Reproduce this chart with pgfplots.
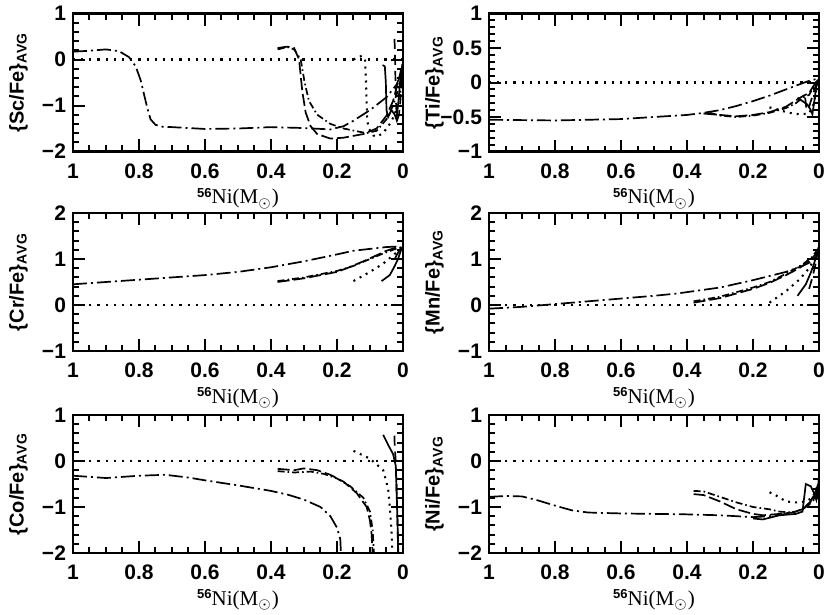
\documentclass[border=0pt]{standalone}
\usepackage{fontspec}
\setmainfont{Liberation Sans}
\newfontfamily\serif{Liberation Serif}
\usepackage{pgfplots}
\pgfplotsset{compat=1.18}
\pgfplotsset{
  panel/.style={
    scale only axis, width=165pt, height=69pt,
    x dir=reverse, xmin=0, xmax=1,
    xtick={0,0.2,0.4,0.6,0.8,1},
    xticklabels={0,0.2,0.4,0.6,0.8,1},
    minor x tick num=3, minor y tick num=4,
    tick align=inside, xtick pos=both, ytick pos=both,
    major tick length=6pt, minor tick length=3pt,
    axis line style={line width=1.2pt},
    every tick/.style={line width=1pt, black},
    ticklabel style={font=\fontsize{10.5}{12}\selectfont\bfseries},
    xticklabel style={yshift=-2.5pt},
    label style={font=\fontsize{10}{12}\selectfont\bfseries},
    ylabel style={at={(axis description cs:-0.165,0.5)}, anchor=center, rotate=0},
    xlabel style={at={(axis description cs:0.5,0)}, yshift=-23.5pt, anchor=center},
    xlabel={{\fontsize{6.5}{7}\selectfont\bfseries\raisebox{3.4pt}{56}}{\serif\fontsize{10.5}{12}\selectfont\mdseries Ni(M$_{\odot}$)}},
    every axis plot/.append style={line width=0.85pt, black},
  },
  zline/.style={line width=1.1pt, dash pattern=on 1.1pt off 3pt},
  sA/.style={dash pattern=on 7pt off 2pt on 1pt off 2pt},
  sB/.style={dash pattern=on 6pt off 2pt},
  sC/.style={dash pattern=on 3.5pt off 1.5pt on 0.8pt off 1.5pt},
  sD/.style={line width=1.05pt, dash pattern=on 1pt off 2.5pt},
  sE/.style={solid},
  sF/.style={dash pattern=on 5pt off 3pt},
}
\begin{document}
\begin{tikzpicture}
\useasboundingbox (0pt,0pt) rectangle (415pt,-307.5pt);
% ---------- Sc ----------
\begin{axis}[panel, at={(36.5pt,-6.75pt)}, anchor=north west,
  ymin=-2, ymax=1, ytick={-2,-1,0,1}, yticklabels={−2,−1,0,1},
  ylabel={\{Sc/Fe\}$_{\mathbf{AVG}}$}]
\addplot[zline] coordinates {(0,0)(1,0)};
\addplot[sA] coordinates {(1,0.17)(0.95,0.19)(0.9,0.22)(0.86,0.18)(0.83,0.05)(0.81,-0.15)(0.795,-0.45)(0.785,-0.75)(0.775,-1.05)(0.765,-1.3)(0.75,-1.42)(0.73,-1.46)(0.7,-1.47)(0.65,-1.49)(0.6,-1.51)(0.5,-1.5)(0.4,-1.47)(0.3,-1.49)(0.22,-1.52)(0.18,-1.45)(0.15,-1.33)(0.1,-1.1)(0.05,-0.82)(0.02,-0.55)(0.005,-0.3)};
\addplot[sB] coordinates {(0.38,0.25)(0.35,0.28)(0.33,0.25)(0.315,0)(0.305,-0.7)(0.295,-1.15)(0.28,-1.45)(0.26,-1.62)(0.22,-1.72)(0.18,-1.7)(0.12,-1.62)(0.08,-1.5)(0.05,-1.22)(0.03,-0.9)(0.015,-0.5)(0.005,-0.2)};
\addplot[sC] coordinates {(0.38,0.22)(0.35,0.27)(0.33,0.22)(0.31,0)(0.298,-0.5)(0.285,-0.9)(0.26,-1.2)(0.22,-1.4)(0.18,-1.5)(0.14,-1.56)(0.11,-1.6)(0.08,-1.55)(0.05,-1.3)(0.03,-1.0)(0.012,-0.6)(0.003,-0.3)};
\addplot[sD] coordinates {(0.15,0.0)(0.135,0.05)(0.125,0.08)(0.115,0.0)(0.112,-0.5)(0.11,-1.0)(0.108,-1.35)(0.1,-1.55)(0.09,-1.65)(0.08,-1.68)(0.06,-1.6)(0.04,-1.4)(0.025,-1.2)(0.01,-0.8)(0.003,-0.4)};
\addplot[sE] coordinates {(0.062,-0.12)(0.055,-0.15)(0.052,-0.5)(0.05,-1.1)(0.045,-1.25)(0.035,-1.1)(0.025,-1.2)(0.02,-1.3)(0.015,-1.0)(0.01,-0.6)(0.005,-0.3)(0.002,-0.1)};
\addplot[sF] coordinates {(0.026,0.45)(0.025,0.3)(0.024,0)(0.023,-0.4)(0.022,-0.8)(0.02,-1.1)(0.017,-1.3)(0.012,-1.2)(0.008,-0.9)(0.004,-0.5)(0.001,-0.2)};
\end{axis}
% ---------- Ti ----------
\begin{axis}[panel, at={(244.5pt,-6.75pt)}, anchor=north west,
  ymin=-1, ymax=1, ytick={-1,-0.5,0,0.5,1}, yticklabels={−1,−0.5,0,0.5,1},
  ylabel={\{Ti/Fe\}$_{\mathbf{AVG}}$}]
\addplot[zline] coordinates {(0,0)(1,0)};
\addplot[sA] coordinates {(1,-0.54)(0.9,-0.545)(0.8,-0.55)(0.7,-0.54)(0.6,-0.53)(0.5,-0.5)(0.4,-0.47)(0.35,-0.44)(0.3,-0.4)(0.25,-0.34)(0.2,-0.27)(0.15,-0.19)(0.1,-0.1)(0.05,-0.01)(0.02,0.04)(0.005,0.05)};
\addplot[sB] coordinates {(0.35,-0.45)(0.3,-0.47)(0.25,-0.49)(0.2,-0.47)(0.15,-0.43)(0.1,-0.35)(0.07,-0.26)(0.05,-0.2)(0.03,-0.15)(0.01,0.0)(0.003,0.05)};
\addplot[sC] coordinates {(0.33,-0.44)(0.3,-0.48)(0.25,-0.5)(0.2,-0.48)(0.15,-0.44)(0.1,-0.37)(0.07,-0.3)(0.05,-0.22)(0.03,-0.18)(0.015,-0.05)(0.003,0.04)};
\addplot[sD] coordinates {(0.15,-0.36)(0.12,-0.4)(0.09,-0.44)(0.06,-0.46)(0.03,-0.45)(0.015,-0.3)(0.008,-0.1)(0.003,0.02)};
\addplot[sE] coordinates {(0.065,-0.22)(0.05,-0.27)(0.035,-0.32)(0.025,-0.4)(0.02,-0.46)(0.015,-0.3)(0.01,-0.12)(0.004,0.04)};
\addplot[sF] coordinates {(0.042,-0.22)(0.04,-0.3)(0.038,-0.4)(0.03,-0.35)(0.02,-0.2)(0.01,-0.05)(0.003,0.05)};
\end{axis}
% ---------- Cr ----------
\begin{axis}[panel, at={(36.5pt,-106.5pt)}, anchor=north west,
  ymin=-1, ymax=2, ytick={-1,0,1,2}, yticklabels={−1,0,1,2},
  ylabel={\{Cr/Fe\}$_{\mathbf{AVG}}$}]
\addplot[zline] coordinates {(0,0)(1,0)};
\addplot[sA] coordinates {(1,0.45)(0.9,0.5)(0.8,0.55)(0.7,0.6)(0.6,0.65)(0.5,0.72)(0.4,0.82)(0.3,0.95)(0.2,1.1)(0.15,1.18)(0.1,1.22)(0.05,1.26)(0.02,1.27)(0.005,1.25)};
\addplot[sB] coordinates {(0.38,0.5)(0.3,0.58)(0.2,0.72)(0.17,0.8)(0.12,0.95)(0.08,1.08)(0.05,1.18)(0.02,1.25)(0.005,1.25)};
\addplot[sC] coordinates {(0.38,0.52)(0.3,0.6)(0.2,0.74)(0.15,0.85)(0.1,1.0)(0.06,1.12)(0.03,1.2)(0.01,1.25)};
\addplot[sD] coordinates {(0.15,0.52)(0.1,0.72)(0.06,0.9)(0.03,1.08)(0.01,1.2)(0.003,1.25)};
\addplot[sE] coordinates {(0.065,0.52)(0.04,0.65)(0.025,0.85)(0.015,1.0)(0.008,1.15)(0.003,1.25)};
\addplot[sF] coordinates {(0.025,1.0)(0.018,1.1)(0.01,1.2)(0.003,1.27)};
\end{axis}
% ---------- Mn ----------
\begin{axis}[panel, at={(244.5pt,-106.5pt)}, anchor=north west,
  ymin=-1, ymax=2, ytick={-1,0,1,2}, yticklabels={−1,0,1,2},
  ylabel={\{Mn/Fe\}$_{\mathbf{AVG}}$}]
\addplot[zline] coordinates {(0,0)(1,0)};
\addplot[sA] coordinates {(1,-0.08)(0.9,-0.04)(0.8,0.02)(0.7,0.08)(0.6,0.14)(0.5,0.2)(0.43,0.25)(0.4,0.28)(0.3,0.38)(0.2,0.54)(0.15,0.63)(0.1,0.72)(0.05,0.85)(0.02,0.95)(0.005,1.1)};
\addplot[sB] coordinates {(0.38,0.05)(0.3,0.15)(0.2,0.35)(0.15,0.48)(0.1,0.65)(0.06,0.8)(0.03,0.95)(0.01,1.1)(0.003,1.2)};
\addplot[sC] coordinates {(0.38,0.08)(0.3,0.18)(0.2,0.38)(0.15,0.5)(0.1,0.68)(0.05,0.88)(0.02,1.05)(0.005,1.2)};
\addplot[sD] coordinates {(0.15,0.05)(0.1,0.3)(0.06,0.55)(0.03,0.8)(0.01,1.05)(0.003,1.2)};
\addplot[sE] coordinates {(0.065,0.2)(0.04,0.45)(0.025,0.7)(0.015,0.9)(0.005,1.15)(0.002,1.25)};
\addplot[sF] coordinates {(0.03,0.35)(0.02,0.6)(0.01,0.9)(0.003,1.2)};
\end{axis}
% ---------- Co ----------
\begin{axis}[panel, at={(36.5pt,-207.5pt)}, anchor=north west,
  ymin=-2, ymax=1, ytick={-2,-1,0,1}, yticklabels={−2,−1,0,1},
  ylabel={\{Co/Fe\}$_{\mathbf{AVG}}$}]
\addplot[zline] coordinates {(0,0)(1,0)};
\addplot[sA] coordinates {(1,-0.32)(0.9,-0.37)(0.8,-0.32)(0.72,-0.3)(0.65,-0.36)(0.6,-0.42)(0.5,-0.53)(0.4,-0.65)(0.35,-0.73)(0.3,-0.84)(0.25,-1.0)(0.22,-1.2)(0.2,-1.45)(0.19,-1.7)(0.188,-2.0)};
\addplot[sB] coordinates {(0.38,-0.17)(0.33,-0.2)(0.3,-0.16)(0.26,-0.2)(0.22,-0.3)(0.18,-0.45)(0.14,-0.7)(0.11,-1.0)(0.1,-1.3)(0.095,-1.6)(0.092,-2.0)};
\addplot[sC] coordinates {(0.38,-0.22)(0.33,-0.25)(0.28,-0.23)(0.24,-0.28)(0.2,-0.38)(0.16,-0.55)(0.12,-0.8)(0.1,-1.1)(0.092,-1.5)(0.088,-2.0)};
\addplot[sD] coordinates {(0.15,0.22)(0.1,0.05)(0.06,-0.2)(0.045,-0.6)(0.04,-1.0)(0.035,-1.5)(0.032,-2.0)};
\addplot[sE] coordinates {(0.06,0.57)(0.045,0.35)(0.03,0.15)(0.022,-0.1)(0.02,-0.5)(0.018,-1.0)(0.016,-1.5)(0.015,-2.0)};
\addplot[sF] coordinates {(0.026,0.55)(0.025,0.3)(0.022,0.0)(0.02,-0.5)(0.018,-1.0)(0.016,-1.5)(0.014,-2.0)};
\end{axis}
% ---------- Ni ----------
\begin{axis}[panel, at={(244.5pt,-207.5pt)}, anchor=north west,
  ymin=-2, ymax=1, ytick={-2,-1,0,1}, yticklabels={−2,−1,0,1},
  ylabel={\{Ni/Fe\}$_{\mathbf{AVG}}$}]
\addplot[zline] coordinates {(0,0)(1,0)};
\addplot[sA] coordinates {(1,-0.78)(0.95,-0.76)(0.9,-0.77)(0.85,-0.86)(0.8,-0.97)(0.75,-1.07)(0.7,-1.12)(0.6,-1.14)(0.5,-1.15)(0.4,-1.16)(0.3,-1.18)(0.2,-1.22)(0.15,-1.2)(0.1,-1.15)(0.05,-1.05)(0.03,-0.95)(0.01,-0.8)(0.003,-0.6)};
\addplot[sB] coordinates {(0.38,-0.72)(0.35,-0.74)(0.3,-0.88)(0.25,-1.05)(0.2,-1.15)(0.17,-1.18)(0.12,-1.15)(0.08,-1.12)(0.05,-1.05)(0.02,-0.85)(0.005,-0.6)};
\addplot[sC] coordinates {(0.38,-0.65)(0.35,-0.66)(0.3,-0.78)(0.25,-0.9)(0.2,-1.0)(0.15,-1.05)(0.12,-1.1)(0.08,-1.12)(0.05,-1.05)(0.02,-0.85)(0.005,-0.55)};
\addplot[sD] coordinates {(0.15,-0.68)(0.13,-0.75)(0.1,-0.88)(0.07,-0.9)(0.04,-0.88)(0.02,-0.8)(0.005,-0.55)};
\addplot[sE] coordinates {(0.2,-1.25)(0.17,-1.27)(0.12,-1.18)(0.07,-1.15)(0.05,-1.1)(0.04,-0.5)(0.025,-0.55)(0.015,-0.7)(0.008,-0.85)(0.004,-0.7)(0.001,-0.4)};
\addplot[sF] coordinates {(0.03,-0.95)(0.02,-0.8)(0.01,-0.7)(0.003,-0.5)};
\end{axis}
\end{tikzpicture}
\end{document}
